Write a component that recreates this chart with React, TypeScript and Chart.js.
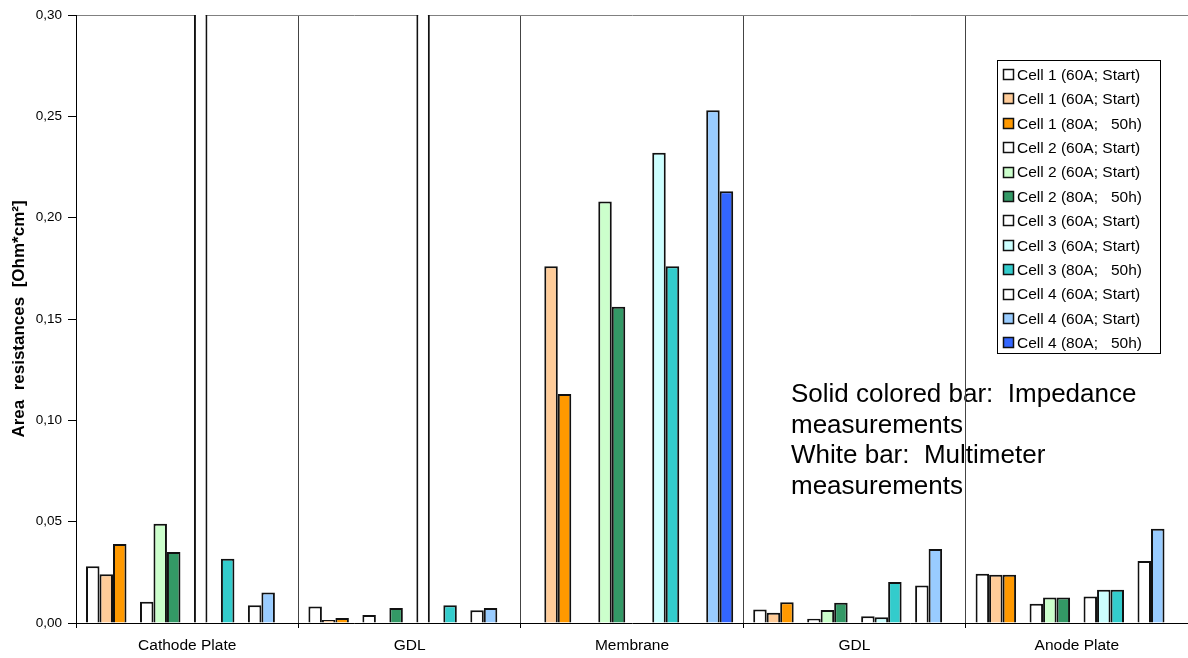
import React, { useEffect, useRef } from 'react';
import { Chart, registerables } from 'chart.js';

Chart.register(...registerables);

const FONT = '"Liberation Sans", Arial, Helvetica, sans-serif';

// ---- data ----
const categories = ['Cathode Plate', 'GDL', 'Membrane', 'GDL', 'Anode Plate'];

const seriesLabels = [
  'Cell 1 (60A; Start)',
  'Cell 1 (60A; Start)',
  'Cell 1 (80A;   50h)',
  'Cell 2 (60A; Start)',
  'Cell 2 (60A; Start)',
  'Cell 2 (80A;   50h)',
  'Cell 3 (60A; Start)',
  'Cell 3 (60A; Start)',
  'Cell 3 (80A;   50h)',
  'Cell 4 (60A; Start)',
  'Cell 4 (60A; Start)',
  'Cell 4 (80A;   50h)',
];

const seriesColors = [
  '#FFFFFF', '#FFCC99', '#FF9900',
  '#FFFFFF', '#CCFFCC', '#339966',
  '#FFFFFF', '#CCFFFF', '#33CCCC',
  '#FFFFFF', '#99CCFF', '#3366FF',
];

const cell1Multi60 = [0.028, 0.0082, null, 0.0066, 0.0243];
const cell1Imp60 = [0.024, 0.0015, 0.176, 0.0051, 0.0238];
const cell1Imp80 = [0.039, 0.0025, 0.113, 0.0102, 0.0238];
const cell2Multi60 = [0.0105, 0.0039, null, 0.0021, 0.0095];
const cell2Imp60 = [0.049, null, 0.208, 0.0064, 0.0126];
const cell2Imp80 = [0.035, 0.0074, 0.156, 0.01, 0.0126];
const cell3Multi60 = [0.35, 0.35, null, 0.0033, 0.0131];
const cell3Imp60 = [null, null, 0.232, 0.0028, 0.0164];
const cell3Imp80 = [0.0317, 0.0087, 0.176, 0.0202, 0.0164];
const cell4Multi60 = [0.0087, 0.0063, null, 0.0185, 0.0306];
const cell4Imp60 = [0.0151, 0.0074, 0.253, 0.0365, 0.0465];
const cell4Imp80 = [null, null, 0.213, null, null];

const seriesValues = [
  cell1Multi60, cell1Imp60, cell1Imp80,
  cell2Multi60, cell2Imp60, cell2Imp80,
  cell3Multi60, cell3Imp60, cell3Imp80,
  cell4Multi60, cell4Imp60, cell4Imp80,
];

const noteLines = [
  'Solid colored bar:  Impedance',
  'measurements',
  'White bar:  Multimeter',
  'measurements',
];

const yMin = 0;
const yMax = 0.3;
const yStep = 0.05;

// ---- helpers ----
function buildDatasets() {
  const ds: any[] = [];
  seriesValues.forEach((vals, i) => {
    ds.push({
      label: seriesLabels[i],
      data: vals,
      backgroundColor: seriesColors[i],
      borderColor: '#111111',
      borderWidth: 2,
      clip: 0,
    });
    if (i % 3 === 2 && i < seriesValues.length - 1) {
      ds.push({
        label: '',
        spacer: true,
        data: categories.map(() => null),
        backgroundColor: 'rgba(0,0,0,0)',
        borderWidth: 0,
      });
    }
  });
  return ds;
}

const notePlugin = {
  id: 'noteText',
  beforeDraw(chart: any) {
    const ctx = chart.ctx;
    ctx.save();
    ctx.fillStyle = '#000';
    ctx.font = `26px ${FONT}`;
    ctx.textAlign = 'left';
    ctx.textBaseline = 'alphabetic';
    noteLines.forEach((t, i) => {
      ctx.fillText(t, 791, 402 + i * 30.5);
    });
    ctx.restore();
  },
};

const boxLegendPlugin = {
  id: 'boxLegend',
  afterDraw(chart: any) {
    const ctx = chart.ctx;
    const items = chart.data.datasets.filter((d: any) => !d.spacer);
    const left = 997;
    const top = 60;
    const right = 1160;
    const rowH = 24.4;
    const firstY = 74.5;
    const bottom = 353;
    ctx.save();
    ctx.fillStyle = '#fff';
    ctx.fillRect(left, top, right - left, bottom - top);
    ctx.strokeStyle = '#000';
    ctx.lineWidth = 1;
    ctx.strokeRect(left + 0.5, top + 0.5, right - left, bottom - top);
    ctx.font = `15.5px ${FONT}`;
    ctx.textBaseline = 'middle';
    ctx.textAlign = 'left';
    items.forEach((d: any, i: number) => {
      const cy = firstY + i * rowH;
      ctx.fillStyle = d.backgroundColor;
      ctx.fillRect(1003, Math.round(cy - 5.5), 11, 11);
      ctx.strokeStyle = '#111';
      ctx.lineWidth = 1.5;
      ctx.strokeRect(1003.5, Math.round(cy - 5.5) + 0.5, 10, 10);
      ctx.fillStyle = '#000';
      ctx.fillText(d.label, 1017, cy + 1);
    });
    ctx.restore();
  },
};

export default function App() {
  const canvasRef = useRef<HTMLCanvasElement | null>(null);

  useEffect(() => {
    if (!canvasRef.current) return;
    const chart = new Chart(canvasRef.current, {
      type: 'bar',
      data: {
        labels: categories,
        datasets: buildDatasets(),
      },
      options: {
        animation: false,
        responsive: true,
        maintainAspectRatio: false,
        layout: { padding: { top: 15, right: 0, bottom: 0, left: 0 } },
        datasets: {
          bar: { categoryPercentage: 0.91, barPercentage: 1.0 },
        },
        plugins: {
          legend: { display: false },
          tooltip: { enabled: false },
          title: { display: false },
        },
        scales: {
          x: {
            offset: true,
            grid: {
              offset: true,
              color: '#444444',
              lineWidth: 1,
              tickLength: 5,
              tickColor: '#000',
              drawOnChartArea: true,
            },
            border: { color: '#000', width: 1 },
            ticks: {
              color: '#000',
              font: { family: FONT, size: 15.5 },
              padding: 8,
              maxRotation: 0,
              autoSkip: false,
            },
            afterFit: (s: any) => {
              s.height = 35;
            },
          },
          y: {
            min: yMin,
            max: yMax,
            ticks: {
              stepSize: yStep,
              color: '#000',
              font: { family: FONT, size: 13.5 },
              padding: 6,
              callback: (v: any) => Number(v).toFixed(2).replace('.', ','),
            },
            grid: {
              color: (c: any) =>
                c.tick && Math.abs(c.tick.value - yMax) < 1e-9 ? '#808080' : 'rgba(0,0,0,0)',
              tickColor: '#000',
              tickLength: 8,
              lineWidth: 1,
            },
            border: { color: '#000', width: 1 },
            title: {
              display: true,
              text: 'Area  resistances  [Ohm*cm²]',
              color: '#000',
              font: { family: FONT, size: 17, weight: 'bold' },
              padding: { top: 9, bottom: 0 },
            },
            afterFit: (s: any) => {
              s.width = 76;
            },
          },
        },
      } as any,
      plugins: [notePlugin, boxLegendPlugin],
    });
    return () => chart.destroy();
  }, []);

  return (
    <div
      style={{
        position: 'fixed',
        left: 0,
        top: 0,
        width: 1188,
        height: 658,
        background: '#fff',
      }}
    >
      <canvas ref={canvasRef} />
    </div>
  );
}
